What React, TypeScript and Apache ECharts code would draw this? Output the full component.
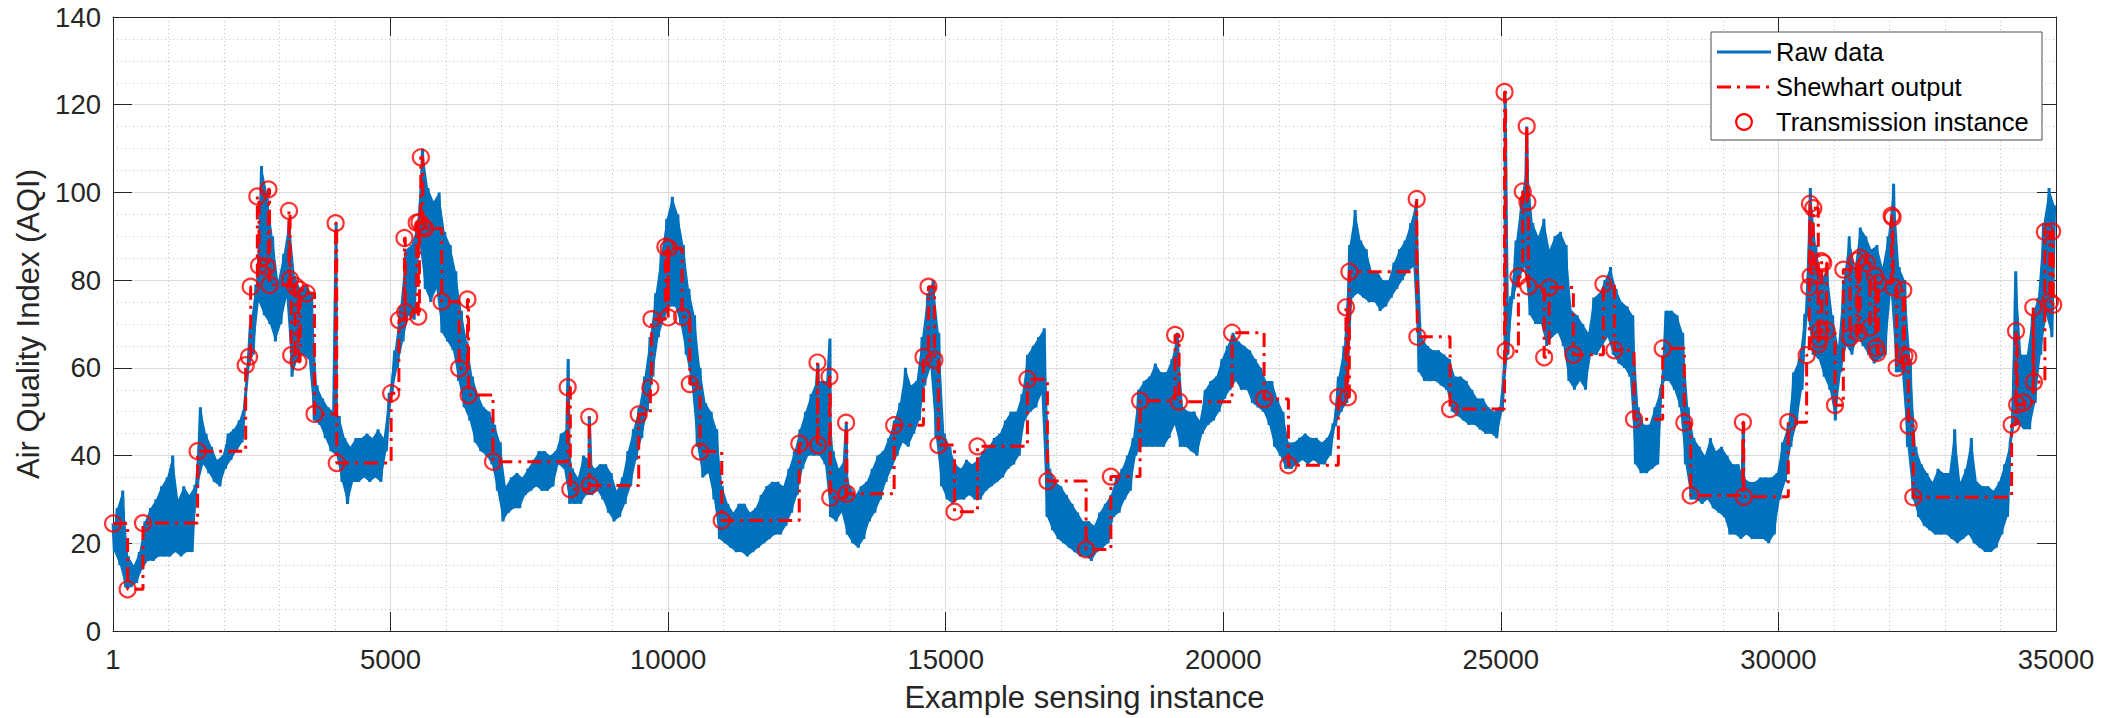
import React, { useEffect, useRef } from "react";
import * as echarts from "echarts";

// ---- Axis setup ----
const X_MIN = 0;
const X_MAX = 35000;
const X_INTERVAL = 5000;
const Y_MIN = 0;
const Y_MAX = 140;
const Y_INTERVAL = 20;

// ---- Raw data: envelope read per 100-sample block (low / high of the noisy band) ----
const RAW_BLOCK = 100;
const RAW_LO = [
  18, 15, 10, 10, 11, 14, 16, 16, 17, 17,
  17, 18, 17, 18, 18, 33, 38, 36, 34, 33,
  37, 39, 41, 43, 59, 63, 75, 72, 70, 66,
  70, 76, 58, 62, 63, 62, 48, 47, 44, 41,
  40, 34, 29, 34, 34, 35, 34, 35, 34, 41,
  54, 60, 66, 72, 71, 88, 78, 75, 78, 68,
  66, 64, 57, 51, 48, 43, 41, 40, 38, 32,
  25, 27, 28, 28, 31, 32, 33, 32, 32, 33,
  38, 37, 29, 29, 29, 31, 31, 32, 30, 27,
  25, 26, 29, 33, 39, 44, 50, 58, 67, 71,
  74, 74, 70, 63, 56, 42, 35, 36, 30, 21,
  20, 19, 18, 18, 17, 18, 19, 20, 21, 22,
  22, 24, 27, 31, 37, 40, 40, 40, 38, 26,
  25, 27, 22, 20, 19, 21, 25, 27, 30, 34,
  37, 40, 43, 42, 45, 48, 56, 60, 44, 33,
  30, 29, 30, 30, 31, 30, 30, 32, 33, 34,
  35, 37, 38, 40, 48, 50, 51, 54, 26, 23,
  21, 20, 19, 18, 17, 17, 16, 18, 19, 20,
  26, 27, 30, 32, 40, 42, 42, 42, 42, 42,
  44, 47, 42, 42, 41, 40, 45, 47, 48, 50,
  53, 55, 57, 55, 55, 52, 51, 50, 47, 42,
  40, 37, 37, 38, 39, 38, 39, 38, 38, 40,
  47, 50, 52, 76, 77, 76, 75, 75, 73, 74,
  76, 78, 80, 82, 83, 59, 57, 57, 57, 56,
  55, 50, 49, 48, 47, 47, 46, 45, 45, 44,
  50, 63, 76, 80, 83, 72, 70, 70, 65, 67,
  68, 65, 57, 55, 57, 55, 63, 63, 65, 67,
  63, 61, 60, 58, 38, 36, 36, 37, 38, 57,
  57, 55, 51, 38, 30, 30, 29, 30, 28, 27,
  26, 22, 22, 21, 22, 21, 21, 21, 20, 22,
  30, 34, 42, 47, 55, 72, 63, 62, 58, 55,
  48, 59, 65, 63, 67, 65, 63, 61, 62, 63,
  77, 59, 59, 42, 30, 26, 24, 23, 22, 22,
  22, 21, 20, 21, 22, 20, 19, 18, 18, 19,
  22, 26, 47, 47, 46, 46, 52, 63, 72, 67,
];
const RAW_HI = [
  28, 32, 17, 15, 18, 25, 28, 30, 33, 35,
  40, 30, 33, 31, 33, 51, 45, 42, 39, 40,
  45, 46, 48, 52, 70, 79, 106, 100, 90, 80,
  86, 94, 81, 78, 79, 77, 56, 53, 51, 50,
  49, 44, 42, 44, 44, 45, 44, 46, 44, 54,
  64, 74, 87, 88, 92, 110, 101, 98, 100, 91,
  88, 82, 73, 66, 58, 54, 51, 50, 47, 43,
  33, 35, 36, 35, 37, 39, 41, 41, 40, 41,
  45, 46, 37, 35, 40, 39, 37, 38, 38, 36,
  32, 35, 41, 46, 51, 58, 67, 77, 86, 94,
  99, 95, 88, 78, 72, 60, 52, 50, 46, 33,
  29, 27, 29, 29, 27, 28, 31, 33, 34, 34,
  33, 37, 41, 46, 50, 54, 57, 57, 57, 41,
  37, 39, 33, 31, 33, 34, 37, 40, 41, 44,
  48, 52, 60, 56, 57, 67, 77, 80, 68, 45,
  42, 38, 37, 39, 38, 39, 41, 42, 44, 45,
  48, 50, 50, 54, 63, 65, 67, 69, 37, 34,
  33, 31, 29, 27, 25, 25, 24, 27, 29, 31,
  35, 37, 40, 44, 55, 57, 58, 61, 59, 59,
  62, 68, 51, 50, 50, 48, 55, 57, 58, 62,
  65, 68, 66, 65, 64, 62, 60, 57, 57, 53,
  50, 43, 43, 44, 45, 44, 44, 43, 44, 47,
  58, 65, 88, 96, 89, 87, 82, 82, 80, 80,
  84, 87, 89, 93, 98, 67, 65, 64, 64, 63,
  62, 58, 58, 57, 55, 53, 53, 51, 50, 51,
  64, 76, 89, 99, 107, 93, 90, 94, 87, 90,
  91, 88, 73, 72, 70, 68, 76, 77, 80, 83,
  78, 75, 74, 72, 51, 47, 47, 51, 55, 73,
  73, 72, 68, 51, 44, 42, 40, 44, 41, 42,
  40, 38, 38, 35, 34, 34, 35, 35, 35, 36,
  43, 47, 59, 62, 72, 101, 88, 80, 83, 72,
  65, 80, 90, 83, 92, 90, 87, 88, 83, 90,
  102, 83, 80, 62, 42, 38, 36, 34, 37, 36,
  36, 46, 34, 37, 44, 34, 33, 33, 32, 34,
  38, 43, 82, 63, 63, 72, 76, 93, 101, 97,
];
// isolated raw outliers (instance, AQI)
const RAW_SPIKE_X = [1, 4020, 8200, 8580, 12700, 12915, 13210, 25076, 25466, 29368];
const RAW_SPIKE_Y = [24.5, 93, 62, 49, 61, 66.7, 47.5, 123, 115, 47.6];

// ---- Transmission instances (Shewhart output changes) ----
const TX_X = [
  1, 263, 540, 1524, 2390, 2450, 2480, 2600, 2630, 2770, 2800, 2820,
  3170, 3190, 3210, 3280, 3340, 3370, 3490, 3630, 4010, 4030,
  5010, 5150, 5250, 5265, 5470, 5500, 5520, 5545, 5580, 5620, 5920,
  6235, 6385, 6405, 6845, 8190, 8238, 8578, 8590, 9470, 9680, 9700,
  9950, 10000, 10010, 10250, 10390, 10575, 10965, 12362, 12690, 12700,
  12906, 12920, 13205, 13219, 14071, 14599, 14689, 14797, 14869, 15158,
  15572, 16472, 16832, 17529, 17975, 18501, 19132, 19204, 20158, 20735,
  21173, 22073, 22210, 22245, 22271, 23484, 23496, 24085, 25066, 25086,
  25316, 25394, 25466, 25478, 25496, 25780, 25870, 26306, 26847, 27045,
  27399, 27915, 28305, 28419, 29360, 29375, 30178, 30508, 30556, 30568,
  30580, 30628, 30718, 30736, 30748, 30779, 30808, 30868, 31019, 31169,
  31289, 31409, 31439, 31469, 31589, 31649, 31739, 31760, 31781, 31799,
  32039, 32057, 32069, 32129, 32249, 32270, 32339, 32345, 32430, 34200,
  34280, 34300, 34410, 34590, 34602, 34800, 34890, 34930, 34950,
];
const TX_Y = [
  24.5, 9.5, 24.6, 41, 60.6, 62.5, 78.5, 99.1, 83.3, 83.1, 100.7, 78.9,
  95.8, 80.2, 62.9, 78.7, 61.4, 77.8, 77.0, 49.5, 93, 38.3,
  54.2, 70.9, 89.6, 72.7, 93.1, 71.7, 93.2, 108, 92.2, 91.8, 75.1,
  59.9, 75.6, 53.8, 38.6, 55.6, 32.3, 48.8, 33.2, 49.4, 55.5, 71.1,
  87.6, 71.5, 87.3, 71.6, 56.3, 40.9, 25.2, 42.7, 61.2, 42.4,
  58, 30.4, 47.5, 31.3, 46.9, 62.5, 78.5, 61.8, 42.4, 27.2,
  42.1, 57.4, 34.2, 18.6, 35.2, 52.5, 67.5, 52.3, 68, 52.9,
  37.8, 53.3, 73.8, 53.3, 81.9, 98.5, 67.1, 50.6, 122.9, 63.8,
  80.8, 100.2, 115.1, 97.8, 78.6, 62.4, 78.3, 63, 79.1, 64,
  48.3, 64.4, 47.5, 30.9, 47.6, 30.6, 47.6, 62.9, 78.4, 97.4,
  80.9, 96.4, 65.4, 66.5, 68.4, 84.3, 83.9, 68.5, 51.5, 82.4,
  66.9, 84.4, 68, 85.1, 83.9, 69.2, 80.9, 64.6, 63.4, 79.3,
  94.7, 94.3, 78.4, 60, 77.7, 62.7, 62.5, 46.8, 30.5, 47,
  68.4, 51.6, 52.1, 73.8, 56.8, 91, 75.1, 91.1, 74.4,
];

const LEGEND_LABELS = ["Raw data", "Shewhart output", "Transmission instance"];
const X_TITLE = "Example sensing instance";
const Y_TITLE = "Air Quality Index (AQI)";

const BLUE = "#0072BD";
const RED = "#FF0000";
const AX = "#262626";
const FONT = '"Liberation Sans", Arial, Helvetica, sans-serif';
const DASHDOT = [14, 6, 3, 6];

function blockLoX(i: number) {
  return RAW_BLOCK * i + RAW_BLOCK / 4;
}
function blockHiX(i: number) {
  return RAW_BLOCK * i + (3 * RAW_BLOCK) / 4;
}

function buildRaw(): [number, number][] {
  const pts: [number, number][] = [];
  RAW_LO.forEach((lo, i) => {
    pts.push([blockLoX(i), lo]);
    pts.push([blockHiX(i), RAW_HI[i]]);
  });
  RAW_SPIKE_X.forEach((x, i) => pts.push([x, RAW_SPIKE_Y[i]]));
  pts.sort((a, b) => a[0] - b[0]);
  return pts;
}

export default function App() {
  const ref = useRef<HTMLDivElement>(null);

  useEffect(() => {
    if (!ref.current) return;
    const chart = echarts.init(ref.current, undefined, { renderer: "svg" });

    const raw = buildRaw();
    const tx: [number, number][] = TX_X.map((x, i) => [x, TX_Y[i]]);
    const shew: [number, number][] = [...tx, [X_MAX, TX_Y[TX_Y.length - 1]]];

    const baseX = {
      type: "value" as const,
      min: X_MIN,
      max: X_MAX,
      interval: X_INTERVAL,
    };
    const baseY = {
      type: "value" as const,
      min: Y_MIN,
      max: Y_MAX,
      interval: Y_INTERVAL,
    };
    const axisLine = { show: true, onZero: false, lineStyle: { color: AX, width: 1 } };
    const axisTick = { show: true, inside: true, length: 19, lineStyle: { color: AX, width: 1 } };

    const legendX = 1711;
    const legendY = 32;
    const rows = [52, 87, 122];

    chart.setOption({
      animation: false,
      backgroundColor: "#ffffff",
      textStyle: { fontFamily: FONT },
      grid: { left: 113, top: 17, right: 65, bottom: 87, containLabel: false },
      xAxis: [
        {
          ...baseX,
          position: "bottom",
          name: X_TITLE,
          nameLocation: "middle",
          nameGap: 51,
          nameTextStyle: { fontSize: 31, color: AX, fontFamily: FONT },
          axisLine,
          axisTick,
          axisLabel: {
            fontSize: 27.5,
            color: AX,
            margin: 14,
            fontFamily: FONT,
            formatter: (v: number) => (v === 0 ? "1" : String(v)),
          },
          splitLine: { show: true, lineStyle: { color: "#dcdcdc", width: 1 } },
          minorTick: { show: false, splitNumber: 5 },
          minorSplitLine: { show: true, lineStyle: { color: "#c2c2c2", width: 1, type: [1, 3] } },
        },
        {
          ...baseX,
          position: "top",
          axisLine,
          axisTick,
          axisLabel: { show: false },
          splitLine: { show: false },
        },
      ],
      yAxis: [
        {
          ...baseY,
          position: "left",
          name: Y_TITLE,
          nameLocation: "middle",
          nameRotate: 90,
          nameGap: 66,
          nameTextStyle: { fontSize: 31, color: AX, fontFamily: FONT },
          axisLine,
          axisTick,
          axisLabel: { fontSize: 27.5, color: AX, margin: 12, fontFamily: FONT },
          splitLine: { show: true, lineStyle: { color: "#dcdcdc", width: 1 } },
          minorTick: { show: false, splitNumber: 4 },
          minorSplitLine: { show: true, lineStyle: { color: "#c2c2c2", width: 1, type: [1, 3] } },
        },
        {
          ...baseY,
          position: "right",
          axisLine,
          axisTick,
          axisLabel: { show: false },
          splitLine: { show: false },
        },
      ],
      series: [
        {
          // filled envelope of the raw noisy signal, drawn through the axes' scales
          type: "custom",
          name: "Raw data band",
          xAxisIndex: 0,
          yAxisIndex: 0,
          silent: true,
          clip: true,
          z: 1,
          data: [[RAW_BLOCK / 4, RAW_LO[0]]],
          encode: { x: 0, y: 1 },
          renderItem: (params: any, api: any) => {
            if (params.dataIndex !== 0) return null;
            const pts: number[][] = [];
            for (let i = 0; i < RAW_HI.length; i++) pts.push(api.coord([blockHiX(i), RAW_HI[i]]));
            for (let i = RAW_LO.length - 1; i >= 0; i--) pts.push(api.coord([blockLoX(i), RAW_LO[i]]));
            return {
              type: "polygon",
              shape: { points: pts },
              style: { fill: BLUE, stroke: "none" },
              silent: true,
            };
          },
        },
        {
          type: "line",
          name: LEGEND_LABELS[0],
          data: raw,
          xAxisIndex: 0,
          yAxisIndex: 0,
          symbol: "none",
          showSymbol: false,
          silent: true,
          lineStyle: { color: BLUE, width: 3, join: "miter", miterLimit: 2 },
          itemStyle: { color: BLUE },
          z: 2,
        },
        {
          type: "line",
          name: LEGEND_LABELS[1],
          data: shew,
          xAxisIndex: 0,
          yAxisIndex: 0,
          step: "end",
          symbol: "none",
          showSymbol: false,
          silent: true,
          lineStyle: { color: RED, width: 3, type: DASHDOT },
          itemStyle: { color: RED },
          z: 3,
        },
        {
          type: "scatter",
          name: LEGEND_LABELS[2],
          data: tx,
          xAxisIndex: 0,
          yAxisIndex: 0,
          symbol: "circle",
          symbolSize: 16,
          silent: true,
          itemStyle: { color: "rgba(0,0,0,0)", borderColor: RED, borderWidth: 2.2 },
          z: 4,
        },
      ],
      graphic: [
        {
          type: "rect",
          z: 100,
          shape: { x: legendX, y: legendY, width: 331, height: 108 },
          style: { fill: "#ffffff", stroke: "#4d4d4d", lineWidth: 1 },
        },
        {
          type: "line",
          z: 101,
          shape: { x1: 1717, y1: rows[0], x2: 1771, y2: rows[0] },
          style: { stroke: BLUE, lineWidth: 3 },
        },
        {
          type: "line",
          z: 101,
          shape: { x1: 1717, y1: rows[1], x2: 1771, y2: rows[1] },
          style: { stroke: RED, lineWidth: 3, lineDash: DASHDOT },
        },
        {
          type: "circle",
          z: 101,
          shape: { cx: 1744, cy: rows[2], r: 7.8 },
          style: { fill: "none", stroke: RED, lineWidth: 2.2 },
        },
        ...LEGEND_LABELS.map((t, i) => ({
          type: "text",
          z: 101,
          x: 1776,
          y: rows[i],
          style: {
            text: t,
            fill: "#000000",
            fontSize: 25.5,
            fontFamily: FONT,
            verticalAlign: "middle",
            align: "left",
          },
        })),
      ],
    });

    return () => {
      chart.dispose();
    };
  }, []);

  return (
    <div
      ref={ref}
      style={{
        position: "fixed",
        left: 0,
        top: 0,
        width: "2121px",
        height: "718px",
        background: "#ffffff",
      }}
    />
  );
}
